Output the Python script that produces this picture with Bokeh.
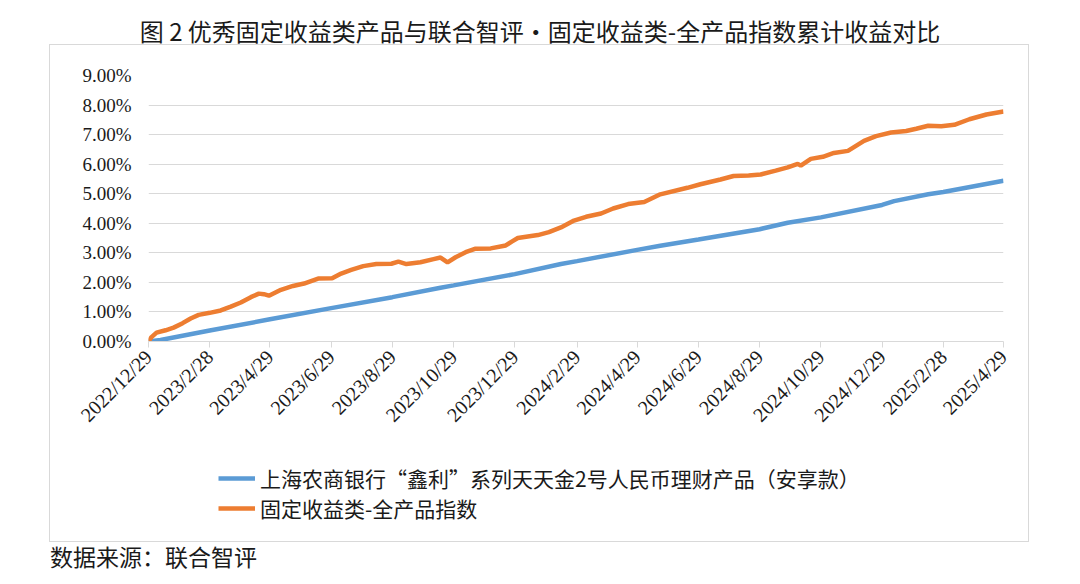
import math
import pandas as pd
from bokeh.plotting import figure
from bokeh.layouts import column
from bokeh.models import (ColumnDataSource, FixedTicker, CustomJSTickFormatter,
                          NumeralTickFormatter, Legend, LegendItem, Div, Range1d)
from bokeh.embed import file_html
from bokeh.resources import INLINE

title_text = "图 2 优秀固定收益类产品与联合智评•固定收益类-全产品指数累计收益对比"
source_text = "数据来源：联合智评"
series_names = ["上海农商银行“鑫利”系列天天金2号人民币理财产品（安享款）",
                "固定收益类-全产品指数"]

blue_dates = ["2022-12-29", "2023-01-10", "2023-02-28", "2023-04-29", "2023-06-29",
              "2023-08-29", "2023-10-16", "2023-10-29", "2023-12-29", "2024-02-13",
              "2024-02-29", "2024-04-29", "2024-05-22", "2024-06-29", "2024-08-29",
              "2024-09-26", "2024-10-29", "2024-12-29", "2025-01-10", "2025-02-13",
              "2025-02-28", "2025-04-29"]
blue_values = [0.00, 0.05, 0.37, 0.75, 1.13,
               1.50, 1.82, 1.90, 2.28, 2.62,
               2.72, 3.10, 3.24, 3.45, 3.80,
               4.02, 4.20, 4.62, 4.75, 4.98,
               5.06, 5.44]

orange_dates = ["2022-12-29", "2023-01-01", "2023-01-06", "2023-01-15", "2023-01-23",
                "2023-02-01", "2023-02-09", "2023-02-17", "2023-02-28", "2023-03-11",
                "2023-03-21", "2023-03-31", "2023-04-10", "2023-04-18", "2023-04-23",
                "2023-04-28", "2023-05-10", "2023-05-22", "2023-06-02", "2023-06-16",
                "2023-06-30", "2023-07-09", "2023-07-19", "2023-07-31", "2023-08-13",
                "2023-08-28", "2023-09-04", "2023-09-12", "2023-09-26", "2023-10-08",
                "2023-10-16", "2023-10-23", "2023-10-31", "2023-11-10", "2023-11-20",
                "2023-12-05", "2023-12-20", "2023-12-26", "2024-01-01", "2024-01-21",
                "2024-02-01", "2024-02-13", "2024-02-26", "2024-03-09", "2024-03-24",
                "2024-04-05", "2024-04-20", "2024-05-06", "2024-05-22", "2024-06-18",
                "2024-07-01", "2024-07-21", "2024-08-03", "2024-08-18", "2024-08-30",
                "2024-09-14", "2024-09-26", "2024-10-06", "2024-10-09", "2024-10-19",
                "2024-10-31", "2024-11-11", "2024-11-25", "2024-12-11", "2024-12-23",
                "2025-01-07", "2025-01-22", "2025-02-01", "2025-02-13", "2025-02-26",
                "2025-03-11", "2025-03-26", "2025-04-12", "2025-04-29"]
orange_values = [0.00, 0.15, 0.30, 0.38, 0.47,
                 0.62, 0.78, 0.90, 0.97, 1.05,
                 1.18, 1.32, 1.50, 1.62, 1.60,
                 1.55, 1.75, 1.88, 1.96, 2.13,
                 2.14, 2.30, 2.42, 2.55, 2.62,
                 2.63, 2.70, 2.62, 2.68, 2.78,
                 2.84, 2.68, 2.85, 3.02, 3.14,
                 3.15, 3.25, 3.38, 3.50, 3.60,
                 3.70, 3.86, 4.09, 4.22, 4.33,
                 4.50, 4.65, 4.72, 4.98, 5.20,
                 5.32, 5.48, 5.60, 5.62, 5.65,
                 5.78, 5.89, 6.01, 5.95, 6.18,
                 6.25, 6.38, 6.45, 6.79, 6.95,
                 7.07, 7.12, 7.20, 7.30, 7.28,
                 7.33, 7.52, 7.68, 7.78]

tick_dates = ["2022-12-29", "2023-02-28", "2023-04-29", "2023-06-29", "2023-08-29",
              "2023-10-29", "2023-12-29", "2024-02-29", "2024-04-29", "2024-06-29",
              "2024-08-29", "2024-10-29", "2024-12-29", "2025-02-28", "2025-04-29"]
tick_labels = ["2022/12/29", "2023/2/28", "2023/4/29", "2023/6/29", "2023/8/29",
               "2023/10/29", "2023/12/29", "2024/2/29", "2024/4/29", "2024/6/29",
               "2024/8/29", "2024/10/29", "2024/12/29", "2025/2/28", "2025/4/29"]
y_ticks_pct = [0, 1, 2, 3, 4, 5, 6, 7, 8, 9]

blue_src = ColumnDataSource(dict(x=pd.to_datetime(blue_dates),
                                 y=[v / 100 for v in blue_values]))
orange_src = ColumnDataSource(dict(x=pd.to_datetime(orange_dates),
                                   y=[v / 100 for v in orange_values]))
tick_ms = [int(t.value // 10**6) for t in pd.to_datetime(tick_dates)]

TEXT = "#1a1a1a"
CJK = "Noto Sans CJK SC"
BLUE, ORANGE = "#5B9BD5", "#ED7D31"

title_div = Div(text=f'<div style="position:relative;top:8px;left:8px;line-height:45px;'
                     f'text-align:center;width:1064px;white-space:nowrap">{title_text}</div>',
                width=1064, height=45, margin=0,
                styles={"font-family": CJK, "font-size": "24px", "color": TEXT,
                        "overflow": "visible"})

# main chart
p = figure(width=978, height=400, x_axis_type="datetime", output_backend="svg",
           toolbar_location=None, title=None,
           x_range=Range1d(pd.Timestamp(tick_dates[0]), pd.Timestamp(tick_dates[-1])),
           y_range=Range1d(0, y_ticks_pct[-1] / 100),
           min_border_left=98, min_border_right=25,
           min_border_top=30, min_border_bottom=104)
p.outline_line_color = None
p.background_fill_color = "white"
p.border_fill_color = "white"

p.line("x", "y", source=blue_src, line_color=BLUE, line_width=4.5)
p.line("x", "y", source=orange_src, line_color=ORANGE, line_width=4.5)

p.xgrid.grid_line_color = None
p.ygrid.grid_line_color = "#d9d9d9"
p.ygrid.grid_line_width = 1

xa = p.xaxis[0]
xa.ticker = FixedTicker(ticks=tick_ms)
xa.formatter = CustomJSTickFormatter(args=dict(tvals=tick_ms, tlabels=tick_labels),
                                     code="const i = tvals.indexOf(tick); return i >= 0 ? tlabels[i] : '';")
xa.major_label_orientation = math.pi / 4
xa.axis_line_color = "#d9d9d9"
xa.major_tick_line_color = "#d9d9d9"
xa.major_tick_in = 0
xa.major_tick_out = 6
xa.minor_tick_line_color = None
xa.major_label_text_font = "Liberation Serif"
xa.major_label_text_font_size = "20px"
xa.major_label_text_color = TEXT
xa.major_label_standoff = 6

ya = p.yaxis[0]
ya.ticker = FixedTicker(ticks=[v / 100 for v in y_ticks_pct])
ya.formatter = NumeralTickFormatter(format="0.00%")
ya.axis_line_color = None
ya.major_tick_line_color = None
ya.minor_tick_line_color = None
ya.major_label_text_font = "Liberation Serif"
ya.major_label_text_font_size = "19px"
ya.major_label_text_color = TEXT
ya.major_label_standoff = 11

# legend strip (same series, drawn outside its visible range so only the legend shows)
lp = figure(width=978, height=96, output_backend="svg", toolbar_location=None,
            x_range=Range1d(0, 1), y_range=Range1d(0, 1),
            x_axis_location=None, y_axis_location=None,
            min_border=0, title=None)
lp.outline_line_color = None
lp.grid.visible = False
lb = lp.line("x", "y", source=blue_src, line_color=BLUE, line_width=4.5)
lo = lp.line("x", "y", source=orange_src, line_color=ORANGE, line_width=4.5)
legend = Legend(items=[LegendItem(label=series_names[0], renderers=[lb]),
                       LegendItem(label=series_names[1], renderers=[lo])],
                location=(70, 18), orientation="vertical",
                glyph_width=37, glyph_height=20, label_height=20, spacing=0,
                label_standoff=5, padding=0, margin=0,
                border_line_color=None, background_fill_alpha=0,
                label_text_font=CJK, label_text_font_size="21px",
                label_text_color=TEXT)
lp.add_layout(legend, "center")

boxed = column(p, lp, spacing=0, margin=(0, 0, 0, 50),
               styles={"outline": "1px solid #d9d9d9"})

source_div = Div(text=f'<div style="position:relative;top:-1px;line-height:27px;'
                      f'padding-left:50px;white-space:nowrap">{source_text}</div>',
                 width=1064, height=27, margin=0,
                 styles={"font-family": CJK, "font-size": "23px", "color": TEXT,
                         "overflow": "visible"})

layout = column(title_div, boxed, source_div, spacing=0)

open("out.html", "w").write(file_html(layout, INLINE))
